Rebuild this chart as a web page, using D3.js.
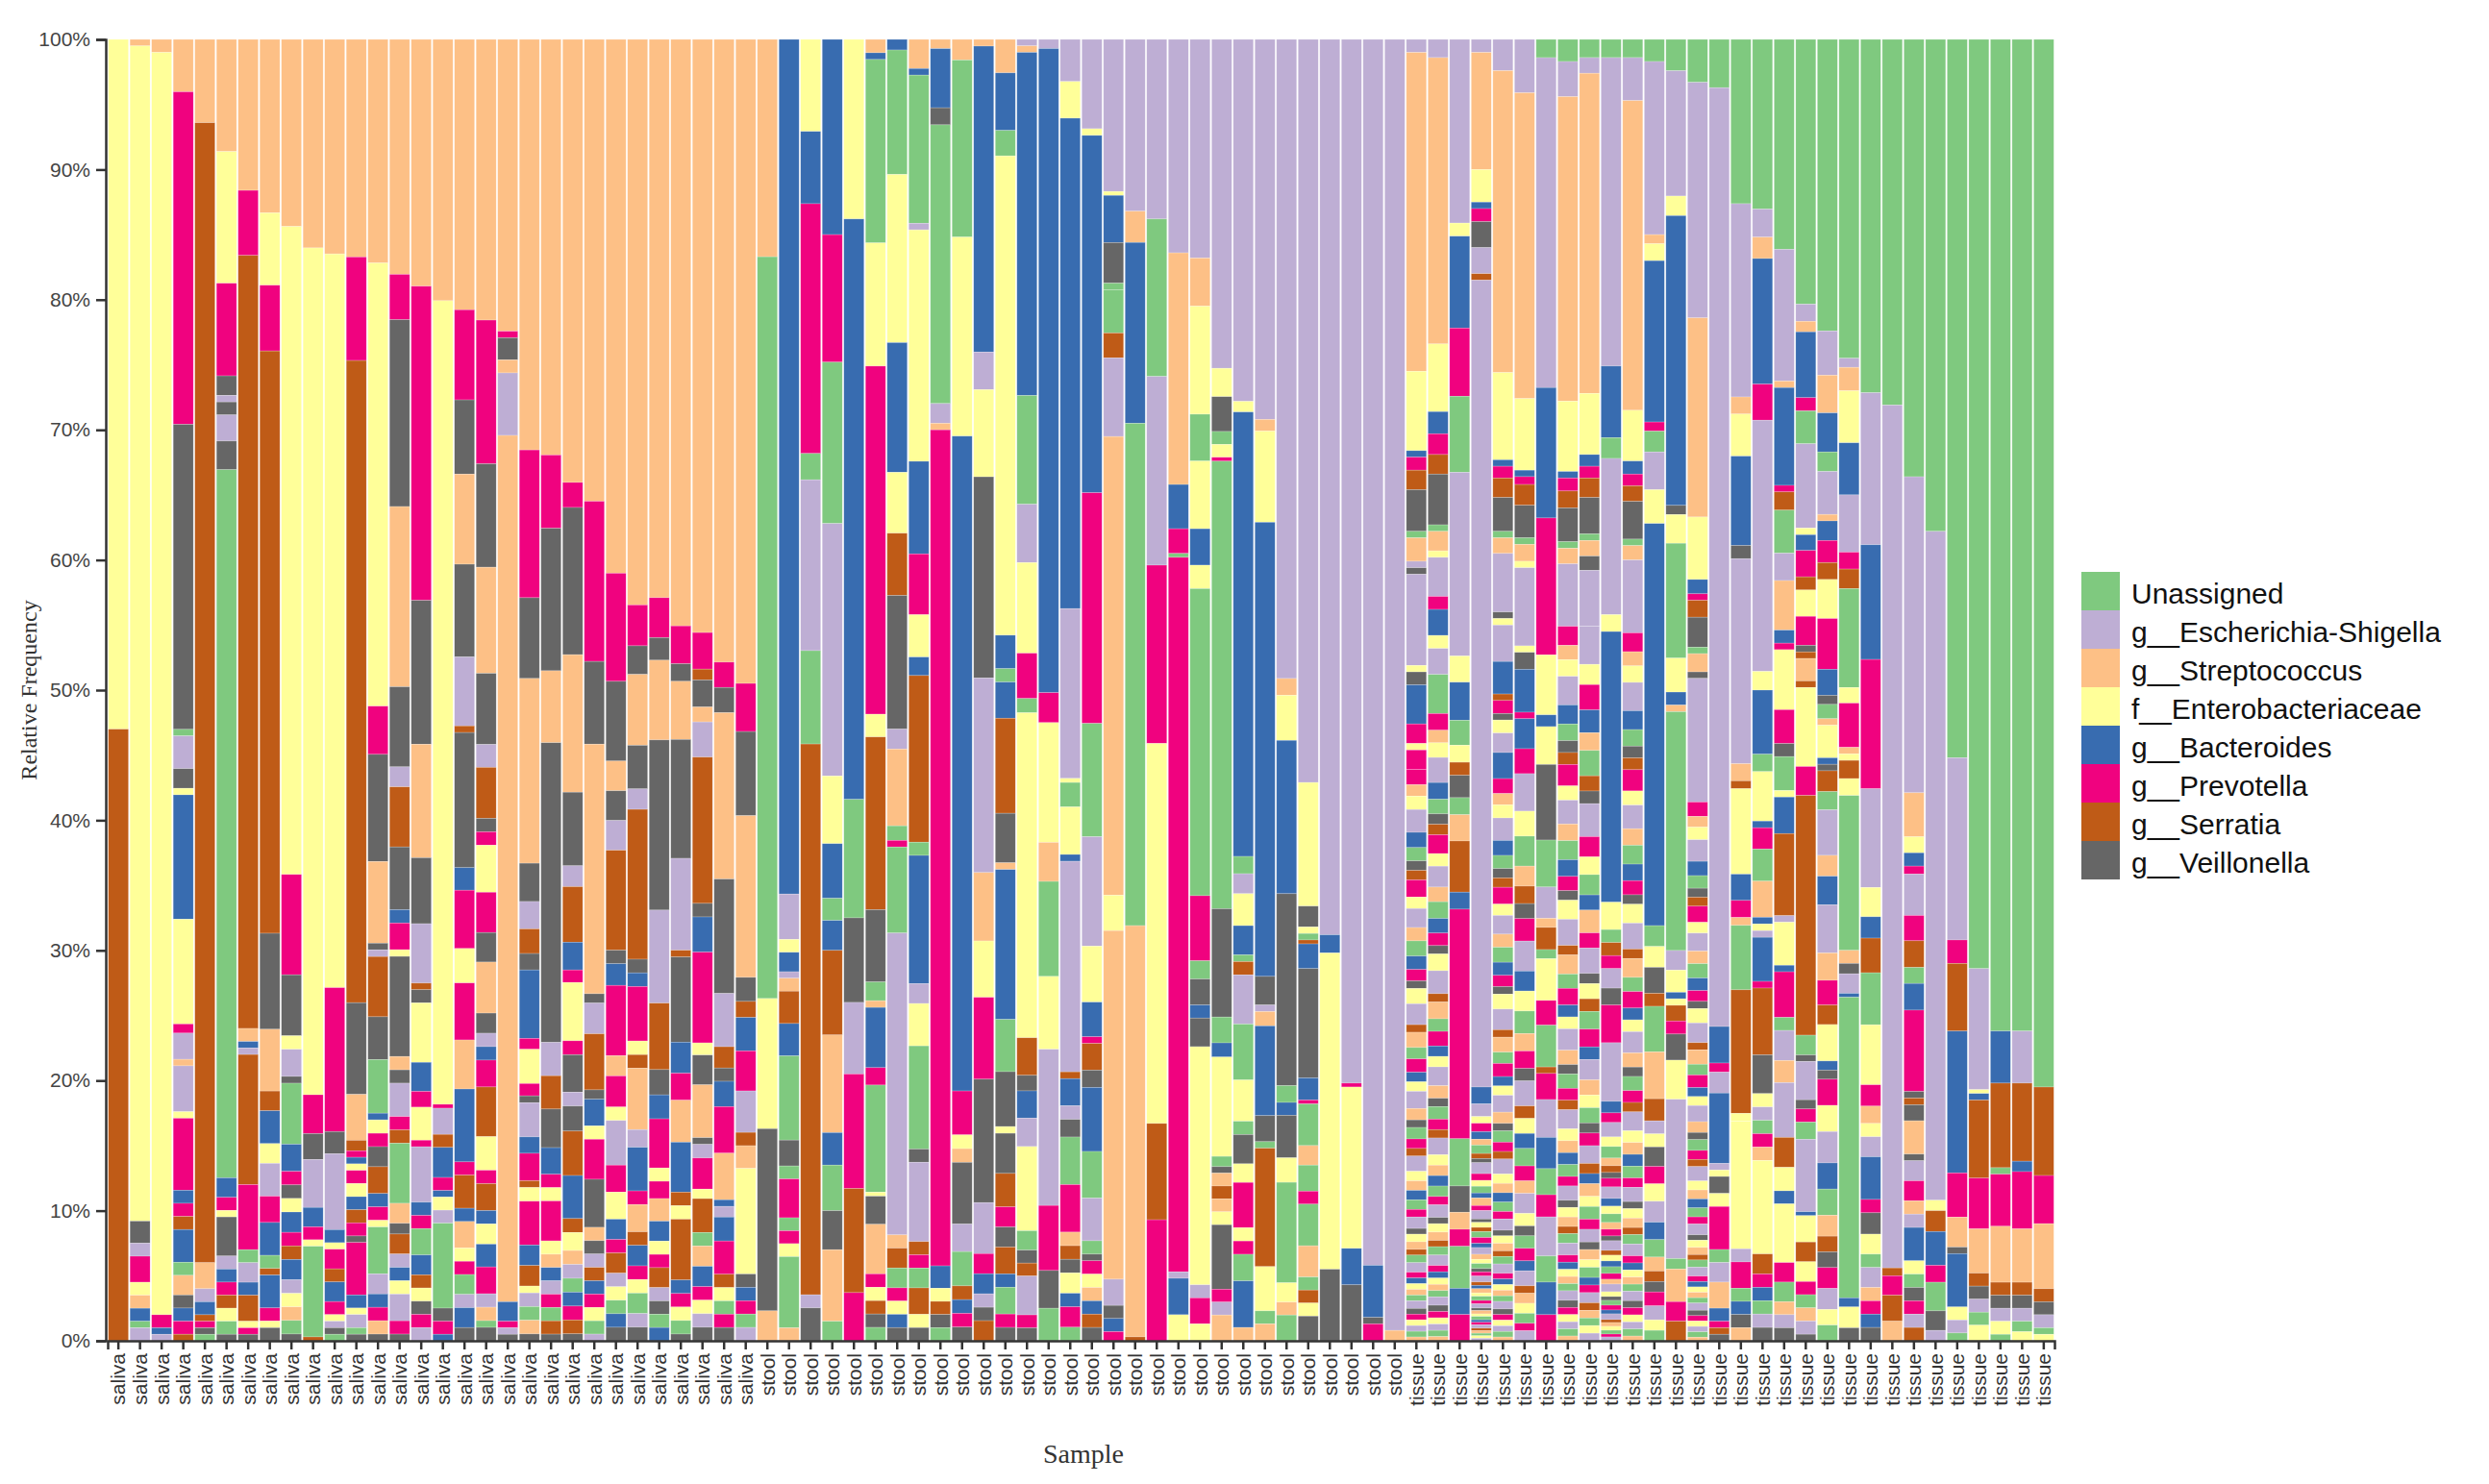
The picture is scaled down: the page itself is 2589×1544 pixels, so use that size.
<!DOCTYPE html>
<html><head><meta charset="utf-8">
<script src="https://cdn.jsdelivr.net/npm/d3@7"></script>
<style>body{margin:0;background:#fff}</style></head>
<body><svg id="c" width="2589" height="1544"></svg>
<script>
// Legend taxa (first colour cycle); deeper taxa cycle through the same Accent palette
const legendNames = ["Unassigned","g__Escherichia-Shigella","g__Streptococcus","f__Enterobacteriaceae","g__Bacteroides","g__Prevotella","g__Serratia","g__Veillonella"];
const palette = ["#7fc97f","#beaed4","#fdc086","#ffff99","#386cb0","#f0027f","#bf5b17","#666666"];
const colorCodes = "GLPYBMNK"; // code letter of each palette colour
const yTicks = [0,10,20,30,40,50,60,70,80,90,100];

// Each bar: top-down segments "<colour code><percent>", taxa in fixed order; "|T" = dense tail of minor taxa
const tails = {
 TA:"M0.8 P0.6 Y0.7 L1.2 B0.8 G0.7 K0.5 N0.5 M0.9 Y0.6 L1 P0.7 G0.8 B0.7 M0.6 K0.4 Y0.8 L1.1 N0.4 P0.8 G0.6 M0.7 B0.5 Y0.5 L0.9 P0.6 K0.4 G0.6 M0.5 N0.4 L0.8 Y0.5 P0.5 B0.5 G0.5 M0.4 L0.6 K0.3 Y0.4 P0.4 N0.3 G0.4 L0.5 M0.3 B0.3 Y0.3 P0.3 G0.3 L0.4 K0.3 M0.3 Y0.3 L0.3 G0.3 P0.2",
 TB:"L1.5 Y0.8 M1 B0.9 P0.7 G1 N0.6 K0.5 L1.3 M0.8 Y0.7 G0.8 B0.6 P0.9 M0.6 L1 K0.4 Y0.6 N0.5 G0.7 M0.7 B0.5 L0.8 P0.6 Y0.5 G0.6 K0.4 M0.5 L0.7 N0.4 B0.4 P0.5 Y0.4 G0.5 M0.4 L0.5 K0.3 P0.4 Y0.3 G0.4 B0.3 M0.3 L0.4 N0.3 P0.3 G0.3 Y0.3 L0.3",
 TC:"B1.2 M1 L1.5 Y1 G1.2 P0.8 N0.7 K0.6 M0.9 L1.2 B0.8 Y0.8 G0.9 P0.7 M0.7 K0.5 L1 N0.5 Y0.6 B0.6 G0.7 M0.6 P0.5 L0.8 Y0.5 K0.4 G0.5 M0.5 B0.4 L0.6 N0.3 P0.4 Y0.4 G0.4 M0.3 L0.4",
 TD:"M1 Y1 L1.2 B1 G1 P0.8 N0.6 K0.6 M0.8 L0.8 Y0.6 G0.6"
};

const salivaBars = [
"Y53 N47",
"P0.5 Y90.3 K1.7 L1 M2 Y1 P1 B1 G0.5 L1",
"P1 Y97 M1 B0.5 L0.5",
"P4 M25.4 K23.3 G0.5 L2.5 K1.5 Y0.5 B9.5 Y8 M0.7 L2 P0.5 L3.5 Y0.5 M5.5 B1 M1 N1 B2.5 G1 P1.5 K1 B1 M1 N0.5",
"P6.4 N87.6 P2 L1 B1 N0.5 M0.5 K0.5 G0.5",
"P8.6 Y10.1 M7.1 K1.5 L0.5 K1 L2 K2.2 G54.3 B1.5 M1 Y0.5 K3 L1 B1 M1 N1 Y1 G1 K0.5",
"P11.6 M5 N59.4 P1 B0.5 L0.5 N10 M5 G1 L1.5 B1 N2 Y0.5 M0.5 K0.5",
"P13.2 Y5.5 M5 N44.3 K7.3 P4.7 N1.5 B2.5 Y1.5 L2.5 M2 B2.5 G1 N0.5 B2.5 M1 Y0.5 K1",
"P13.8 Y47.8 M7.4 K4.5 Y1 L2 K0.5 G4.5 B2 M1 K1 Y1 B1.5 M1 N1 B1.5 L1 Y1 P1 G1 K0.5",
"P16.1 Y65.4 M3 K2 L3.7 B1.5 M1 Y0.5 G7 N0.3",
"P16.4 Y56.1 M11 K1.7 L5.8 B1 Y0.5 M1.5 N1 B1.5 M1 Y0.5 L0.5 K0.5 G0.5",
"P16.6 M7.9 N49 K7 P3.5 N0.8 M0.5 B0.5 Y0.5 M1 Y1 B1 N1 M1 K0.5 M4 B1 Y0.5 L1 G0.5 K0.5",
"P16.7 Y33.1 M3.6 K8 P6.1 K0.5 L0.5 N4.5 K3.2 G4 B0.5 Y1 M1 K1.5 N2 B1 M1 Y0.5 G3.5 L1.5 B1 M1 P1 K0.5",
"P17.6 M3.4 K14 P13.5 K6 L1.5 N4.5 K4.7 B1 M2 Y0.5 K7.5 P1 K1 L2.5 M1 N1 G4.5 P1.5 K0.8 N1.5 L1 B1 Y1 L2 M1 K0.5",
"P18.7 M23.8 K10.9 P8.6 K5 L4.5 N0.5 K1 Y4.5 B2.2 M1.2 Y2.5 M0.5 L4.2 B1 M1 G2 B1.5 N1 Y1 K1 M1 L1",
"P20 Y61.5 M0.3 L2 N1 B2.3 M1 B0.5 Y1 L1 G6.5 K1 M1 B0.5",
"P20.4 M6.8 K5.6 P6.8 K7 L5.2 N0.5 K10.2 B1.7 M4.4 Y2.6 M4.3 P3.7 B5.5 M1 N2.5 B1 P2 Y1 M1 G1.5 L1 B1.5 K1",
"P20.9 M10.7 K7.7 P7.9 K5.3 L1.7 N3.8 K1 M1 Y3.5 M3 K2.2 P3.8 K1.5 L1 B1 M2 N3.7 Y2.5 M1 N2 B1 Y1.5 B1.7 M2 L1 P1 G0.5 K1",
"P22.4 M0.5 K1.7 P1 L4.8 P66.5 B1.5 M0.5 L0.5 K0.5",
"P30 M10.8 K5.9 P13.5 K2.8 L2 N1.8 K1.2 B5 M0.8 Y2.5 M0.9 K0.5 L2.5 B1.2 M2 N0.5 Y1 M3.2 B1.5 N1.5 Y0.5 L1 G1 P1 K0.5",
"P31.2 M5.5 K10.7 P5.4 K22.5 L2.5 N2.5 K2.9 B2 M1 Y1 M3 Y1 P1 B1 L1 M1 G1 N1 K0.5",
"P31.9 M1.8 K10.6 P9.9 K5.3 L1.5 N4 B2 M0.9 Y4.2 M1 K2.7 L1 K1.8 N3.2 B3.1 N1 Y1.3 P1 L1 G1 B1 M1 N1 K0.5",
"P34.6 M12 K6.2 P18.7 K0.7 L2.3 N4.2 K0.7 B2 Y1 M3 K3.6 P1 K1 L1 N1 B1 M1 Y1 G1 L0.5",
"P39.5 M8 K5.9 P2.2 K2.2 L2.2 N7.4 K1 B1.6 M5.2 P1.5 M2.3 Y1 L3.3 M2 Y2 B1.5 M1 N1.5 L1 Y1 G1 B1 K1",
"P41.5 M3 K2.1 P5.2 K3.2 L1.5 N11 K1 B1 M4 Y1 N1 P4.5 L1.3 B3.2 M1 P2 N1 B1.5 M1 Y1 G1.5 L1 K1",
"P42 M3 K1.7 P6 K12.8 L7 N5 K1.9 B1.8 M3.7 Y1 M1.3 P1.7 B1.5 Y1 M1 N1.5 L1 K1 G1 B1",
"P43.4 M2.8 K1.3 P4.3 K8.8 L6.8 N0.5 K6.3 B2.3 M2 P3.1 B3.7 N1 Y1 N4.5 B1 M1 Y1 G1 K0.5",
"P43.8 M2.7 N0.8 K2 P1.1 L2.6 N10.8 K1 B2.6 M6.7 Y0.9 K2.2 P3.9 K0.5 L1 M2.3 Y0.7 N2.5 G1 P1.5 B1.5 M1 Y1 L1 K1",
"P46.8 M1.9 K1.9 P12.5 K8.6 L4 N1.6 K1 B1.9 M3.5 P3.5 B0.5 L0.8 B1.8 M2.5 N1 Y1 G1 M1 K1",
"P48.2 M3.6 K6.3 P12.1 K1.8 N1.2 B2.5 M3 L3.1 N1 P1.7 Y7.9 K1 B1 M1 G1 L1"
];
const stoolBars = [
"P16.7 G57 Y10 K14 P2.3",
"B66 L3.5 Y1 B1.5 L0.5 P1 N2.5 B2.5 G6.5 K2 G1 M3 G1 M1 Y1 G5.5 P1",
"Y7 B5.5 M19 G2 L13 G7.1 N41.9 L1 K2.5",
"B15 M9.8 G12.4 L19.4 Y5.2 B4.2 G1.7 B2.3 N6.5 P7.5 B2.5 G3.5 K3 P5.5 G1.5",
"Y13.8 B44.6 G9.1 K6.5 L5.5 M8.8 N8 M3.7",
"P1 B0.5 G13.7 Y9.2 M26 Y1.7 N12.9 K5.4 G1.4 P0.5 B4.5 M1.3 G8 Y0.3 K2.1 P3.7 M1 Y1 N1 K1 G1",
"B0.8 G9.4 Y12.7 B9.8 Y4.6 N4.7 K10.1 L1.5 P5.8 G1.1 M0.5 G6.5 L22.8 P1 N1.5 G1.5 M1 Y1 B1 K1",
"P2.2 B0.5 G11.2 L0.5 Y17.5 B7 M4.6 Y3.2 B1.4 N12.6 G1 B9.7 L1.5 Y3.2 G7.8 K1 L6 N1 M1 G1.5 N2 Y1 K1",
"P0.7 B4.5 K1.3 G21.2 L1.5 P0.5 M63.6 B1.7 Y1 N1 K1 G1",
"P1.5 G12.9 Y14.5 B47.7 M3.2 Y1 P1 K4.5 L2 G2.5 N1 B1 M1 K1",
"P0.5 B22.8 L2.8 Y6.5 K15 L14.5 P5.1 Y4.2 M6.1 K9.2 L3.8 M1.5 B1.5 L1 K1 N1.5",
"P2.5 B4.3 G1.9 Y35.8 B2.5 G1 B2.7 N7.1 K3.7 P0.5 B11.2 G3.9 K4.1 Y0.5 K3 N2.5 M1.5 K1.5 N2 B1 G2 M1 K1",
"L0.5 P0.5 B26.5 G8.4 L4.5 Y7 M3.5 G1.1 Y25.1 N2.9 K1.2 B2.1 L2.2 Y6.5 G1.5 K1 N1 L3 M1 K1",
"L0.7 B49.5 M2.3 Y9.2 P3 G7.3 Y5.6 L12 M5 K2.9 G2.5",
"L3.1 Y2.7 B36.1 L12.5 Y0.3 G1.8 Y3.5 B0.5 L15.5 N0.5 B2 L1 K1.3 G3.5 M3.5 P1 N1 K1 Y1.5 B1 M1.5 G1",
"L6.7 Y0.5 B26.8 M17.3 G8.5 L8.2 Y4.2 B2.6 M0.5 N2 K1.3 B4.8 G3.5 L3.2 G1 K0.5 M1 Y1 P1 B1 N1 K1",
"L11.6 Y0.3 B3.6 K3.1 G0.5 G3.3 N1.9 L6 P35 Y2.7 P26.6 L2 K1 B1 M0.7",
"L13.2 P2.4 B13.9 G38.6 P31.6 N0.3",
"L13.8 G12.1 L14.5 M13.7 Y29.2 N7.4 M9.3",
"L16.4 P17.8 B3.4 M1.9 G0.3 M54.9 L0.5 B2.8 Y2",
"L16.8 P3.7 Y8.3 G3.6 Y5.2 B2.8 Y1.8 G23.6 M5 G1.4 K2 B1 K2.2 Y18.3 L1 M2 Y1.3",
"L25.5 Y2.2 K2.7 G1 Y1 M0.3 G34.7 K8.4 G2 B1.1 Y7.7 G0.8 K0.5 P1 N1 P1 Y1 K5 M1 L1 P2",
"L27.2 Y0.8 B33.4 G1.3 L1.5 Y2.4 B2.2 G0.5 N1 L3.7 G4.2 Y3.1 G1 K2.2 Y1.4 M3.4 Y1 M1 G2 B3.5 P1",
"L29.2 P0.9 Y7 B34.9 K2.2 L0.5 P1.1 B6.9 K2 G0.5 N9.1 Y3.4 G1 P1.3",
"L49.6 P1.3 Y3.5 B11.9 K14.9 G1.3 B1 K3.3 Y1.9 G7.8 Y1.5 P1 G2",
"L57.1 Y9.5 K1.6 Y0.5 G0.5 N0.3 B1.9 K8.4 B1.7 M0.3 G3.2 P1.5 G2 M1 G3.2 P2.4 G1 N1 Y1 K1.9",
"L68.8 B1.4 Y24.3 K5.5",
"L80.2 M0.3 Y12.4 B2.8 K4.3",
"L94.2 B4 K0.5 M1.3",
"L99.2 P0.8"
];
const tissueBars = [
"L1 P24.5 Y6.1 B0.5 M1 N1.5 K3.2 G0.5 P1.8 L0.5 K0.5 L7 Y0.5 K1 B3 M1.5 Y0.5 M1.5|TA",
"L1.4 P22 Y5.2 B1.7 M1.6 N1.5 K3.9 G0.5 P1.5 Y0.5 L3 M1 B2 Y1 L2 G3|TA",
"L14 Y1 B7 M5.2 G5.8 L14 Y2 B2.9 G1.9 Y1.3 N1 K1.7 G1.3 P2 N3.9 B1.3 M17.5 G3.6 K2 P1.3 M1.3 G3.2 B2 M2",
"L1 P9 Y2.5 B0.5 M1 K2 L2 N0.5 L62 B1.3|TB",
"L2.4 P23.2 Y6.7 B0.5 M0.9 N1.5 K2.6 G0.5 P1.2 L4.5 K0.5 Y0.5 L2.8 B2.5 N0.5 M1 K0.5 Y1 L1.5 B2|TA",
"L4.1 P23.5 Y5.5 B0.5 M0.6 N1.6 K2.5 G0.5 P1.3 Y0.5 L6 Y0.5 K1.3 B3.3 M0.5|TC",
"G1.4 L25.3 B10 M10.5 Y4.6 B0.9 Y2.9 K5.8 G3.6 L2.4 P0.7 N1.7 G0.7 Y3.2 M1.9 G3.2 N0.5 M2 L2.9 B2.4 G2 M1.7 L3 G2 B2.5 M2",
"G1.7 L2.7 P23.4 Y5.4 B0.5 M1 N1.3 K2.6 G0.5 P1.2 L4.8|TA",
"G1.4 L1.2 P24.6 Y4.7 B0.9 M0.9 N1.5 K2.8 G0.5 P1.2 K1.1 L4.3|TB",
"G1.4 L23.7 B5.5 G1.6 L12 Y1.3 B20.8 Y2.1 G1 N1 M1 L1.5 K1.3 M2.9 L4.5|TC",
"G1.4 L3.3 P23.8 Y3.9 B1 M0.9 N1.2 K2.9 G0.5 P1.1 L5.6|TA",
"G1.7 L13.3 P0.7 Y1.3 B12.4 M0.7 G1.6 L2.9 Y2.6 B30.9 G1.6 Y1.6 K2 N1 G3.5 P3.6 N1.7 L1 Y1 K1.5|TD",
"G2.4 L9.6 Y1.5 B22.2 K0.7 Y2.2 G8.8 Y2.6 B1 P0.5 G18.3 L1.5 Y1.7 B0.5 Y0.5 N1.2 M1 K2 Y3 L12.2 G0.8 P2.5 M1.5 N1.5",
"G3.3 L18.1 P15.3 Y4.8 B1.1 M0.5 N1.3 K2.3 G0.5 P1.4 K0.5 L9.5|TA",
"G3.7 L72 B2.8 M0.7 L1.6 B5.4 L0.5 Y0.5 K1.3 Y1 M3.3 G1 L1.5 P2 B1 M0.5 N0.5 K0.5",
"G12.5 L14.7 P1.3 Y3.2 B6.8 K1 L15.6 P1.3 N0.6 Y6.5 B2 M1.3 P0.6 G4.9 N9.4 Y0.6 Y9.7 L1 M2 G1 B1 K1 P1",
"G12.7 L2.1 P1.6 B9.4 M2.7 L18.8 Y1.4 B4.8 G1.3 Y3.7 B0.5 M1.6 G2.4 P2.7 B0.5 Y0.5 L0.5 B3.3 M0.5 N5 K2.9 Y1 L1 G1 M1 P1 Y7 N1.5 M1 B1 G1 L1 K1",
"G16.1 L10.1 P0.5 B7.5 M0.5 N1.4 G3.3 L2.1 P3.8 B1 M0.5 Y4.6 M2.6 K1 G2.6 Y0.5 B2.8 N6.3 L0.5 Y3.3 B0.5 M3.5 G1 L2.3 P1.7 L4.2 N2.3 Y1.8 B1 Y4.5 M1.5 G1.5 P1 L1 K1",
"G20.1 L1.3 P0.8 B5 M1 G2.5 L6.4 Y0.5 B1.2 M2 N1 Y2 M2.2 K0.5 N0.5 P1.7 N0.5 Y6 M2.2 N18.2 G1.5 K0.5 L2.9 K0.7 M1 G1.3 L5.5 B0.3 Y2 N1.5 Y1.5 M1 G1 P1 L1 K0.5",
"G22.4 L3.4 P2.9 B3 G1.5 L3.3 P0.5 B1.5 M1.7 N1.3 Y3 M3.9 B2 K0.7 G1.1 P0.5 Y2.5 B0.5 K0.5 N1.6 G1.4 L3.5 P1.6 B2.2 L3.7 P2.1 M1.9 N1.5 Y2.8 B0.7 K0.7|TD",
"G24.5 L0.7 P1.8 Y4 B4 L4.4 M1.3 N1.5 G7.6 Y1.2 M3.4 P0.5 Y0.5 N1.4 Y1.3 G11.9 P1 K0.8 L1.5 B0.3 G23.1 B0.7 Y1.6 K1",
"G26.5 L11.4 B8.6 M9.7 L7.4 Y2.2 B1.6 N2.6 G3.9 Y4.5 M1.6 P1.3 Y1 L1.5 B3.2 M1 K1.6 Y1.5 G1 L1.5 P1 M1 B1 K1",
"G28.1 L66.3 N0.6 M1.5 N2 P1.5",
"G32.8 L23.7 P3.3 Y1.2 B1 M0.6 L3.1 M1.9 N2 G1.2 B2 M6.1 K0.5 N0.5 K1.2 P2.5 K0.5 L1.5 M1.5 P1 L1 B2.5 Y1 G1 K1 M1 L1 N1",
"G37.8 L51.4 Y0.8 N1.6 B2.6 M1.3 G2.2 K1.5 L0.8",
"G55.2 L14 M1.8 N5.2 B10.9 M3.4 P2.3 K0.5 B4.1 Y1 L1 G0.6",
"G71.4 L9.3 Y0.3 B0.5 N6 M3.9 P3.4 N1 K1 L1 G1 Y1.2",
"G76.2 B4 N6.5 G0.5 M4 P4.3 N1 K1 L1 Y1 G0.5",
"G76.2 L4 N6 B0.8 M4.4 P4.1 N1 K1 L1 G0.8 Y0.7",
"G80.5 N6.8 M3.7 P5 N1 K1 L1 G0.5 Y0.5"
];

function parseSegs(str, startIdx){
  let idx = startIdx, out = [];
  str.trim().split(/\s+/).forEach(tok => {
    const ci = colorCodes.indexOf(tok[0]);
    let t = idx + 1; while (t % 8 !== ci) t++;
    idx = t; out.push({taxon: t, v: +tok.slice(1)});
  });
  return out;
}
function buildBar(str){
  const [head, tailKey] = str.split("|");
  let segs = parseSegs(head, -1);
  let hs = d3.sum(segs, d => d.v);
  if (tailKey) {
    const last = segs[segs.length-1].taxon;
    let tail = parseSegs(tails[tailKey], last);
    const ts = d3.sum(tail, d => d.v), rem = Math.max(0, 100 - hs);
    tail.forEach(d => d.v = d.v * rem / ts);
    segs = segs.concat(tail);
  }
  const tot = d3.sum(segs, d => d.v);
  let top = 100;
  segs.forEach(d => { d.v = d.v * 100 / tot; d.y1 = top; d.y0 = top - d.v; top = d.y0; });
  return segs;
}
const samples = [];
salivaBars.forEach((s,i) => samples.push({id:"s"+i, label:"saliva", segs: buildBar(s)}));
stoolBars.forEach((s,i) => samples.push({id:"t"+i, label:"stool", segs: buildBar(s)}));
tissueBars.forEach((s,i) => samples.push({id:"u"+i, label:"tissue", segs: buildBar(s)}));

const svg = d3.select("#c");
const L = 112, R = 2137, T = 41, B = 1395;
const x = d3.scaleBand().domain(samples.map(d => d.id)).range([L, R]).paddingInner(0.07).paddingOuter(0.03);
const y = d3.scaleLinear().domain([0,100]).range([B, T]);

const g = svg.append("g");
samples.forEach(s => {
  g.selectAll(null).data(s.segs).enter().append("rect")
    .attr("x", x(s.id)).attr("width", x.bandwidth())
    .attr("y", d => y(d.y1)).attr("height", d => Math.max(0, y(d.y0) - y(d.y1)))
    .attr("fill", d => palette[d.taxon % 8])
    .attr("stroke", "#ffffff").attr("stroke-opacity", 0.35).attr("stroke-width", 0.6);
});

// Y axis
const yAxis = d3.axisLeft(y).tickValues(yTicks).tickFormat(d => d + "%").tickSize(10).tickPadding(6);
const ya = svg.append("g").attr("transform", `translate(${L-2},0)`).call(yAxis);
ya.selectAll("text").attr("font-family","'Liberation Sans', Arial, sans-serif").attr("font-size", 21).attr("fill","#444");
ya.selectAll("path,line").attr("stroke","#333").attr("stroke-width",2.5);

// X axis
const xAxis = d3.axisBottom(x).tickFormat(id => samples.find(s => s.id === id).label).tickSize(9).tickPadding(4);
const xa = svg.append("g").attr("transform", `translate(0,${B})`).call(xAxis);
xa.selectAll("path,line").attr("stroke","#333").attr("stroke-width",2.5);
xa.selectAll("text").attr("font-family","'Liberation Sans', Arial, sans-serif").attr("font-size", 21).attr("fill","#333")
  .attr("transform","rotate(-90)").attr("text-anchor","end").attr("dy","0.35em").attr("x",-13).attr("y",0);

svg.append("text").attr("x", 1127).attr("y", 1522).attr("text-anchor","middle")
  .attr("font-family","'Liberation Serif', 'Times New Roman', serif").attr("font-size", 28).attr("fill","#333").text("Sample");
svg.append("text").attr("transform","translate(38,718) rotate(-90)").attr("text-anchor","middle")
  .attr("font-family","'Liberation Serif', 'Times New Roman', serif").attr("font-size", 24).attr("fill","#333").text("Relative Frequency");

// Legend
const lg = svg.append("g").attr("transform","translate(2165,595)");
legendNames.forEach((n,i) => {
  lg.append("rect").attr("x",0).attr("y", i*40).attr("width",40).attr("height",40).attr("fill", palette[i]);
  lg.append("text").attr("x",52).attr("y", i*40 + 33).attr("font-family","'Liberation Sans', Arial, sans-serif")
    .attr("font-size", 30).attr("fill","#111").text(n);
});
</script></body></html>
